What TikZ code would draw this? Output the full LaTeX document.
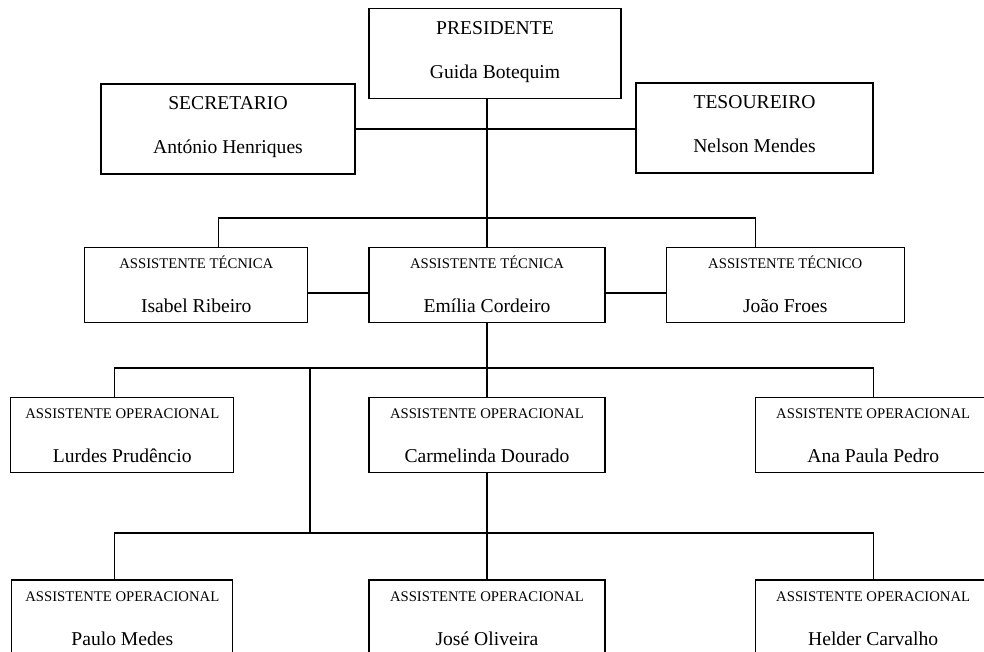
\documentclass[tikz,border=0pt]{standalone}
\usepackage{fontspec}
\setmainfont{Liberation Serif}
\usetikzlibrary{positioning}
\newcommand\rolebig{\fontsize{19.6}{44}\selectfont}
\newcommand\rolesmall{\fontsize{14.7}{44}\selectfont}
\tikzstyle{orgline} = [line width=1.2pt, draw=black]
\tikzstyle{bigbox} = [rectangle, draw=black, line width=1.2pt, minimum height=90pt, inner sep=0pt, align=center, text height=52pt, text depth=3pt, font=\rolebig]
\tikzstyle{smallbox} = [rectangle, draw=black, line width=1.2pt, minimum height=75pt, inner sep=0pt, align=center, text height=58pt, text depth=3pt, font=\rolebig]

\begin{document}
\begin{tikzpicture}[x=1pt, y=-1pt]
\useasboundingbox (0,0) rectangle (984,651);
% Board at the top
\node (pres) [bigbox, minimum width=252pt] at (495,53.5) {PRESIDENTE\\Guida Botequim};
\node (sec) [bigbox, minimum width=254pt] at (228,129) {SECRETARIO\\António Henriques};
\node (tes) [bigbox, minimum width=237pt] at (754.5,128) {TESOUREIRO\\Nelson Mendes};

% Technical assistants
\node (emil) [smallbox, minimum width=236pt] at (487,285) {{\rolesmall ASSISTENTE TÉCNICA}\\Emília Cordeiro};
\node (isab) [smallbox, minimum width=223pt, left=60pt of emil] {{\rolesmall ASSISTENTE TÉCNICA}\\Isabel Ribeiro};
\node (joao) [smallbox, minimum width=238pt, right=60pt of emil] {{\rolesmall ASSISTENTE TÉCNICO}\\João Froes};

% Operational assistants
\node (carm) [smallbox, minimum width=236pt, below=74pt of emil] {{\rolesmall ASSISTENTE OPERACIONAL}\\Carmelinda Dourado};
\node (lurd) [smallbox, minimum width=223pt, left=134pt of carm] {{\rolesmall ASSISTENTE OPERACIONAL}\\Lurdes Prudêncio};
\node (ana) [smallbox, minimum width=236pt, right=149pt of carm] {{\rolesmall ASSISTENTE OPERACIONAL}\\Ana Paula Pedro};
\node (jose) [smallbox, minimum width=236pt, minimum height=76pt, below=106pt of carm] {{\rolesmall ASSISTENTE OPERACIONAL}\\José Oliveira};
\node (paul) [smallbox, minimum width=221pt, minimum height=76pt, left=135pt of jose] {{\rolesmall ASSISTENTE OPERACIONAL}\\Paulo Medes};
\node (held) [smallbox, minimum width=236pt, minimum height=76pt, right=149pt of jose] {{\rolesmall ASSISTENTE OPERACIONAL}\\Helder Carvalho};

% Bus lines
\coordinate (bus2) at (487,218);
\coordinate (bus3) at (487,368);
\coordinate (bus4) at (487,533);
\coordinate (drop) at (310,368);

% Drawing of Lines
\draw [orgline] (emil.north) -- (emil.north |- pres.south);
\draw [orgline] (sec.east) -- (sec.east -| tes.west);
\draw [orgline] ([xshift=22.5pt]isab.north) |- (bus2) -| ([xshift=-30pt]joao.north);
\draw [orgline] ([yshift=-8pt]isab.east) -- ([yshift=-8pt]emil.west);
\draw [orgline] ([yshift=-8pt]emil.east) -- ([yshift=-8pt]joao.west);
\draw [orgline] (emil.south) -- (carm.north);
\draw [orgline] ([xshift=-7.5pt]lurd.north) |- (bus3) -| (ana.north);
\draw [orgline] (drop) -- (drop |- bus4);
\draw [orgline] (carm.south) -- (jose.north);
\draw [orgline] ([xshift=-7.5pt]paul.north) |- (bus4) -| (held.north);

\end{tikzpicture}
\end{document}
